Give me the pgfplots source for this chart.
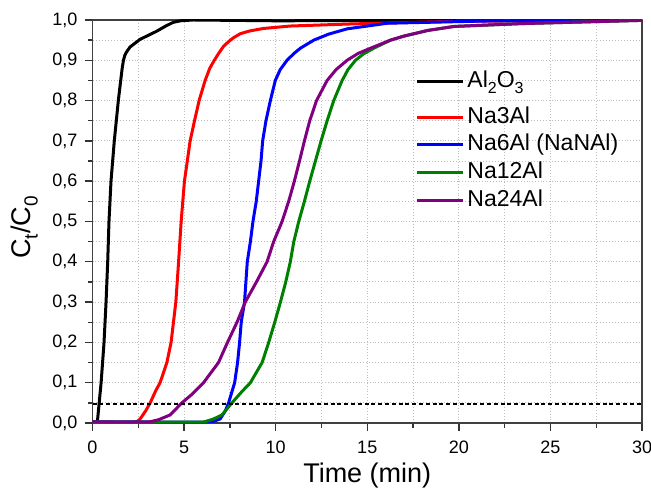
\documentclass[border=0pt]{standalone}
\usepackage{fontspec}
\setmainfont{Liberation Sans}
\usepackage{pgfplots}
\pgfplotsset{compat=1.18}
\definecolor{cgreen}{RGB}{0,128,0}
\definecolor{cpurple}{RGB}{128,0,128}
\newcommand{\sub}[1]{\raisebox{-0.5ex}{\fontsize{8}{8}\selectfont #1}}
\newcommand{\subl}[1]{\raisebox{-0.5ex}{\fontsize{9.5}{9.5}\selectfont #1}}
\begin{document}
\begin{tikzpicture}
\begin{axis}[
  scale only axis, width=274.75pt, height=201.5pt,
  at={(0,0)}, anchor=south west,
  xmin=0, xmax=30, ymin=0, ymax=1,
  xtick={0,5,...,30}, minor xtick={2.5,7.5,...,27.5},
  ytick={0,0.1,...,1.0}, minor ytick={0.05,0.15,...,0.95},
  xtick pos=left, ytick pos=left,
  tick align=outside,
  major tick length=4pt, minor tick length=2.5pt,
  every tick/.style={black!80, line width=0.7pt},
  grid=both,
  grid style={densely dotted, black!25, line width=0.5pt},
  minor grid style={densely dotted, black!25, line width=0.5pt},
  axis line style={black!75, line width=0.8pt},
  /pgf/number format/assume math mode=true,
  tick label style={font=\fontsize{9}{10}\selectfont},
  yticklabel style={/pgf/number format/.cd, use comma, fixed, fixed zerofill, precision=1},
  xticklabel style={/pgf/number format/.cd, fixed, precision=0, /tikz/yshift=-1.5pt},
  xlabel={Time (min)},
  ylabel={C\subl{t}/C\subl{0}},
  every axis x label/.style={at={(axis description cs:0.5,-0.131)}, anchor=center, font=\fontsize{13.5}{15}\selectfont},
  every axis y label/.style={at={(axis description cs:-0.124,0.485)}, anchor=center, rotate=90, font=\fontsize{13.5}{15}\selectfont},
  legend style={at={(0.587,0.878)}, anchor=north west, draw=none, fill=none,
    font=\fontsize{11.5}{13}\selectfont, row sep=1.85pt, inner sep=0pt,
    nodes={inner xsep=1.5pt, inner ysep=0pt, text height=9pt, text depth=3pt}},
  legend cell align=left,
  legend image code/.code={\draw[#1, line width=1.5pt] (0pt,0pt) -- (23pt,0pt);},
  line join=round,
]
\addplot[black, line width=1.5pt, legend image code/.code={\draw[black, line width=1.5pt] (0pt,2pt) -- (23pt,2pt);}] coordinates {
(0,0.004) (0.2,0.002) (0.26,0.0) (0.47,0.1) (0.63,0.2) (0.74,0.3) (0.83,0.4) (0.9,0.5)
(1.01,0.6) (1.19,0.7) (1.41,0.8) (1.54,0.85) (1.62,0.88) (1.69,0.9) (1.77,0.913) (1.85,0.92) (2.05,0.933) (2.6,0.952)
(3.5,0.972) (4.0,0.985) (4.4,0.994) (4.8,0.998) (5.5,1.0) (10,0.998) (20,0.999) (30,0.999)};
\addlegendentry[text depth=7pt]{Al\sub{2}O\sub{3}}
\addplot[red, line width=1.5pt] coordinates {
(0,0.003) (2.2,0.002) (2.45,0.004) (2.6,0.01) (2.9,0.03) (3.15,0.05) (3.45,0.08) (3.69,0.1)
(4.06,0.15) (4.29,0.2) (4.42,0.25) (4.55,0.3) (4.7,0.4) (4.84,0.5) (5.02,0.6) (5.33,0.7)
(5.57,0.75) (5.82,0.8) (6.15,0.85) (6.4,0.88) (6.65,0.9) (6.9,0.918) (7.16,0.935) (7.45,0.947) (7.7,0.956) (8.07,0.966) (8.6,0.973) (9.34,0.979)
(10.8,0.985) (14,0.99) (20,0.997) (30,0.999)};
\addlegendentry{Na3Al}
\addplot[blue, line width=1.5pt] coordinates {
(0,0.003) (6.25,0.002) (6.6,0.004) (6.97,0.01) (7.25,0.03) (7.43,0.05) (7.76,0.1) (7.92,0.15)
(8.03,0.2) (8.12,0.25) (8.3,0.3) (8.45,0.4) (8.62,0.45) (8.76,0.5) (8.94,0.55) (9.07,0.6)
(9.2,0.65) (9.29,0.7) (9.47,0.75) (9.71,0.8) (9.98,0.85) (10.25,0.877) (10.62,0.9) (11.0,0.917) (11.35,0.93) (12.08,0.95)
(12.9,0.965) (13.9,0.978) (16.1,0.992) (22,0.998) (30,0.999)};
\addlegendentry{Na6Al (NaNAl)}
\addplot[cgreen, line width=1.5pt] coordinates {
(0,0.002) (6.05,0.002) (6.61,0.01) (7.07,0.02) (7.61,0.05) (8.2,0.08) (8.62,0.1) (9.26,0.15)
(9.62,0.2) (9.95,0.25) (10.26,0.3) (10.55,0.35) (10.8,0.4) (10.99,0.45) (11.26,0.5) (11.57,0.55)
(11.86,0.6) (12.17,0.65) (12.48,0.7) (12.81,0.75) (13.17,0.8) (13.63,0.85) (13.95,0.877) (14.36,0.9) (14.8,0.916) (15.36,0.93)
(16.27,0.95) (17.0,0.96) (18.3,0.974) (19.74,0.984) (23.4,0.991) (30,0.999)};
\addlegendentry{Na12Al}
\addplot[cpurple, line width=1.5pt] coordinates {
(0,0.002) (3.05,0.002) (3.6,0.008) (4.24,0.02) (4.88,0.05) (5.4,0.07) (6.06,0.1) (6.88,0.15)
(7.37,0.2) (7.89,0.25) (8.34,0.3) (8.95,0.35) (9.53,0.4) (9.89,0.45) (10.35,0.5) (10.71,0.55)
(11.02,0.6) (11.3,0.65) (11.57,0.7) (11.86,0.75) (12.23,0.8) (12.81,0.85) (13.3,0.877) (13.9,0.9) (14.5,0.917) (15.18,0.93)
(16.27,0.95) (17.0,0.96) (18.3,0.974) (19.74,0.984) (23.4,0.991) (30,0.999)};
\addlegendentry{Na24Al}
\addplot[black, line width=0.9pt, dash pattern=on 2pt off 1.4pt, forget plot] coordinates {(0,0.048) (30,0.048)};
\end{axis}
\pgfresetboundingbox
\path (-46.25pt,-33.5pt) rectangle (279.25pt,211.5pt);
\end{tikzpicture}
\end{document}
